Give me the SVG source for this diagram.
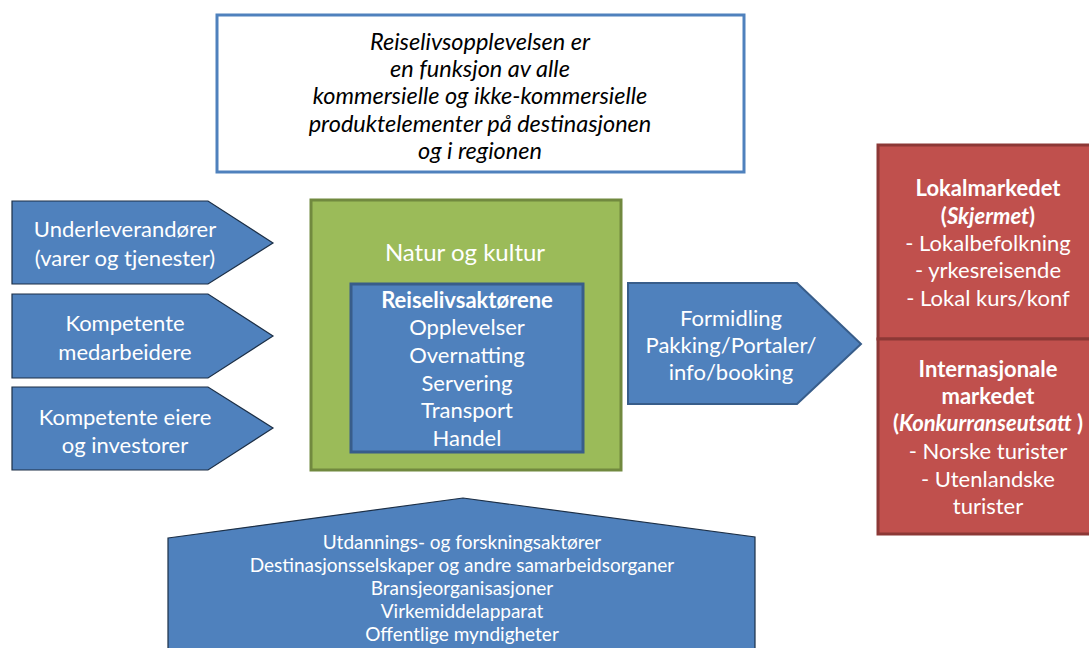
<svg xmlns="http://www.w3.org/2000/svg" width="1089" height="648" viewBox="0 0 1089 648">
<style>
text{font-family:Lato,"Open Sans","DejaVu Sans",sans-serif;text-anchor:middle}
.w{fill:#ffffff;font-size:22px}
.wb{fill:#ffffff;font-size:22px}
.s{fill:#ffffff;font-size:19px}
.k{fill:#000000;font-size:23.5px;font-style:italic}
.b{font-weight:bold}
.i{font-style:italic}
.arrow{fill:#4f81bd;stroke:#1c2f46;stroke-width:1.2}
</style>
<rect width="1089" height="648" fill="#ffffff"/>
<g id="top-note">
<rect x="217" y="15" width="527" height="157" fill="#ffffff" stroke="#4f81bd" stroke-width="3"/>
<text class="k" x="480" y="50">Reiselivsopplevelsen er</text>
<text class="k" x="480" y="77">en funksjon av alle</text>
<text class="k" x="480" y="104">kommersielle og ikke-kommersielle</text>
<text class="k" x="480" y="132">produktelementer på destinasjonen</text>
<text class="k" x="480" y="159">og i regionen</text>
</g>
<g id="underleverandorer">
<polygon class="arrow" points="12,201 208,201 273,243 208,284 12,284"/>
<text class="w" x="125" y="237">Underleverandører</text>
<text class="w" x="125" y="266">(varer og tjenester)</text>
</g>
<g id="medarbeidere">
<polygon class="arrow" points="12,294 208,294 273,336 208,378 12,378"/>
<text class="w" x="125" y="331">Kompetente</text>
<text class="w" x="125" y="360">medarbeidere</text>
</g>
<g id="eiere">
<polygon class="arrow" points="12,387 208,387 273,428 208,470 12,470"/>
<text class="w" x="125" y="425">Kompetente eiere</text>
<text class="w" x="125" y="453">og investorer</text>
</g>
<g id="natur-og-kultur">
<rect x="311" y="200" width="310" height="270" fill="#9bbb59" stroke="#71893f" stroke-width="3"/>
<text class="w" x="465" y="261" style="font-size:24px">Natur og kultur</text>
</g>
<g id="reiselivsaktorene">
<rect x="351" y="284" width="232" height="168" fill="#4f81bd" stroke="#385d8a" stroke-width="3"/>
<text class="wb b" x="467" y="308">Reiselivsaktørene</text>
<text class="wb" x="467" y="335">Opplevelser</text>
<text class="wb" x="467" y="363">Overnatting</text>
<text class="wb" x="467" y="391">Servering</text>
<text class="wb" x="467" y="418">Transport</text>
<text class="wb" x="467" y="446">Handel</text>
</g>
<g id="formidling">
<polygon points="628,283 797,283 861,344 797,404 628,404" fill="#4f81bd" stroke="#385d8a" stroke-width="2"/>
<text class="w" x="731" y="326">Formidling</text>
<text class="w" x="731" y="353">Pakking/Portaler/</text>
<text class="w" x="731" y="380">info/booking</text>
</g>
<g id="lokalmarkedet">
<rect x="878" y="145" width="214" height="194" fill="#c0504d" stroke="#8c3836" stroke-width="3"/>
<text class="wb b" x="988" y="196">Lokalmarkedet</text>
<text class="wb b" x="988" y="224">(<tspan class="i">Skjermet</tspan>)</text>
<text class="wb" x="988" y="251">- Lokalbefolkning</text>
<text class="wb" x="988" y="278">- yrkesreisende</text>
<text class="wb" x="988" y="306">- Lokal kurs/konf</text>
</g>
<g id="internasjonale-markedet">
<rect x="878" y="339" width="214" height="195" fill="#c0504d" stroke="#8c3836" stroke-width="3"/>
<text class="wb b" x="988" y="377">Internasjonale</text>
<text class="wb b" x="988" y="404">markedet</text>
<text class="wb b" x="988" y="431">(<tspan class="i">Konkurranseutsatt</tspan> )</text>
<text class="wb" x="988" y="459">- Norske turister</text>
<text class="wb" x="988" y="487">- Utenlandske</text>
<text class="wb" x="988" y="514">turister</text>
</g>
<g id="stottespillere">
<polygon points="168,538 463,498 755,537 755,660 168,660" fill="#4f81bd" stroke="#1c2f46" stroke-width="1.2"/>
<text class="s" x="462" y="549">Utdannings- og forskningsaktører</text>
<text class="s" x="462" y="572">Destinasjonsselskaper og andre samarbeidsorganer</text>
<text class="s" x="462" y="595">Bransjeorganisasjoner</text>
<text class="s" x="462" y="618">Virkemiddelapparat</text>
<text class="s" x="462" y="641">Offentlige myndigheter</text>
</g>
<g id="connectors"/>
</svg>
